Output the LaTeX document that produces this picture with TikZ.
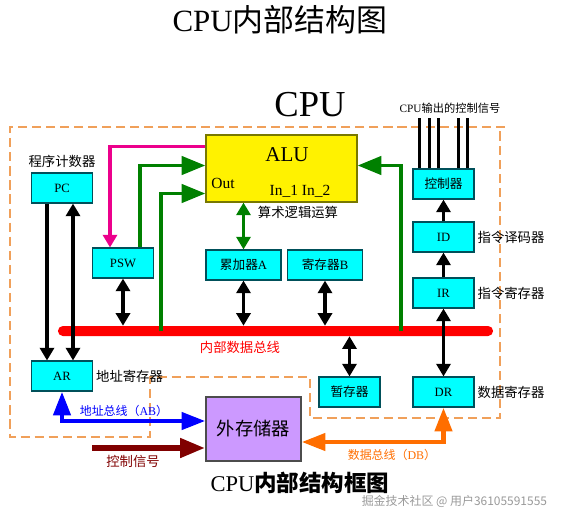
\documentclass[tikz,border=0pt]{standalone}
\usepackage{fontspec}
\setmainfont{Liberation Serif}
\newfontfamily\cjk{Noto Sans CJK SC}
\newcommand{\zh}[1]{{\cjk #1}}
\usepackage{tikz}
\usetikzlibrary{arrows.meta,calc,positioning}
\definecolor{regfill}{RGB}{0,255,255}
\definecolor{regline}{RGB}{0,80,90}
\definecolor{aluline}{RGB}{120,120,0}
\definecolor{memfill}{RGB}{204,153,255}
\definecolor{frameorange}{RGB}{240,160,90}
\definecolor{dbus}{RGB}{255,110,0}
\definecolor{ctlred}{RGB}{128,0,0}
\definecolor{okgreen}{RGB}{0,128,0}
\tikzstyle{reg} = [rectangle, draw=regline, fill=regfill, line width=0.8pt, minimum width=1.525cm, minimum height=0.75cm, inner sep=0pt, font={\fontsize{9}{10}\selectfont}]
\tikzstyle{wide} = [reg, minimum width=1.875cm]
\tikzstyle{note} = [inner sep=1pt, font={\fontsize{9.5}{10}\selectfont}]
\tikzstyle{line} = [draw, line width=2.8pt, -{Triangle[length=9pt,width=10pt]}]
\tikzstyle{both} = [line, {Triangle[length=9pt,width=10pt]}-{Triangle[length=9pt,width=10pt]}]
\tikzstyle{feed} = [draw, line width=2.8pt, draw=okgreen, -{Triangle[length=17pt,width=13pt]}]
\tikzstyle{wire} = [draw, line width=3.5pt, {Triangle[length=17pt,width=12pt]}-{Triangle[length=17pt,width=12pt]}]
\tikzstyle{cpuframe} = [draw=frameorange, line width=1pt, dash pattern=on 6.5pt off 3.5pt]

\begin{document}
\begin{tikzpicture}[x=0.025cm, y=-0.025cm]
  \useasboundingbox (0,0) rectangle (562,509);
  \draw [cpuframe] (505,127) -- (10,127) -- (10,437) -- (150,437) -- (150,377)
    -- (310,377) -- (310,418) -- (500,418) -- (500,127);

  \node [font={\fontsize{22}{22}\selectfont}] (title) at (280,20) {CPU\zh{内部结构图}};
  \node [font={\fontsize{26}{26}\selectfont}] (cpu) at (310,105) {CPU};

  % registers
  \node [reg] (PC) at (62,188) {PC};
  \node [note, above=2pt of PC] (pcname) {\zh{程序计数器}};
  \node [reg] (PSW) at (123,263) {PSW};
  \node [wide] (A) at (243.5,265) {\zh{累加器}A};
  \node [wide] (B) at (325,265) {\zh{寄存器}B};
  \node [reg] (AR) at (62,376) {AR};
  \node [note, right=1pt of AR] (arname) {\zh{地址寄存器}};
  \node [reg] (tmp) at (349.5,392) {\zh{暂存器}};
  \node [reg] (DR) at (443.5,392) {DR};
  \node [note, right=1pt of DR] (drname) {\zh{数据寄存器}};
  \node [reg] (IR) at (443.5,293) {IR};
  \node [note, right=1pt of IR] (irname) {\zh{指令寄存器}};
  \node [reg] (ID) at (443.5,237) {ID};
  \node [note, right=1pt of ID] (idname) {\zh{指令译码器}};
  \node [reg] (ctrl) at (443.5,184) {\zh{控制器}};
  \node [note, font={\fontsize{8}{9}\selectfont}] (ctrlname) at (450,108) {CPU\zh{输出的控制信号}};

  % alu
  \node [rectangle, draw=aluline, fill=yellow, line width=0.8pt,
    minimum width=3.775cm, minimum height=1.675cm] (ALU) at (281.5,168.5) {};
  \node [font={\fontsize{15}{15}\selectfont}] (alutext) at (287,155) {ALU};
  \node [font={\fontsize{11}{11}\selectfont}] (out) at (223,183) {Out};
  \node [font={\fontsize{11}{11}\selectfont}] (ins) at (300,191) {In\_1 In\_2};
  \node [note] (aluname) at (298,212) {\zh{算术逻辑运算}};

  % memory
  \node [rectangle, draw=black!70, fill=memfill, line width=0.8pt,
    minimum width=2.375cm, minimum height=1.6cm, font={\fontsize{13}{13}\selectfont}]
    (mem) at (253.5,429) {\zh{外存储器}};

  % internal bus
  \node [rectangle, fill=red, rounded corners=3.5pt, minimum width=10.875cm,
    minimum height=0.25cm, inner sep=0pt] (bus) at (275.5,331) {};
  \node [note, text=red] (busname) at (240,347) {\zh{内部数据总线}};
  \coordinate (tapL) at (161,331);
  \coordinate (tapR) at (401,331);
  \coordinate (ctlin) at (92,448);

  % pc and ar
  \path [line] ($(PC.south)+(-15,0)$) -- ($(AR.north)+(-15,0)$);
  \path [both] ($(AR.north)+(11,0)$) -- ($(PC.south)+(11,0)$);

  % to and from the bus
  \path [both] (PSW.south) -- (PSW.south |- bus.north);
  \path [both] (A.south) -- (A.south |- bus.north);
  \path [both] (B.south) -- (B.south |- bus.north);
  \path [both] (tmp.north) -- (tmp.north |- bus.south);
  \path [both] (DR.north) -- (IR.south);
  \path [line] (IR.north) -- (ID.south);
  \path [line] (ID.north) -- (ctrl.south);
  \foreach \dx in {-24,-14,-5,15,24}
    \draw [line width=2pt] ($(ctrl.north)+(\dx,0)$) -- ++(0,-50);

  % alu wiring
  \path [line, draw=magenta] ($(ALU.west)+(0,-22)$) -| ($(PSW.north)+(-13,0)$);
  \path [feed] ($(PSW.north)+(17,0)$) |- ($(ALU.west)+(0,-3)$);
  \path [feed] (tapL) |- ($(ALU.west)+(0,25)$);
  \path [feed] (tapR) |- ($(ALU.east)+(0,-3)$);
  \path [both, draw=okgreen] (A.north |- ALU.south) -- (A.north);

  % outside buses
  \path [wire, draw=blue] (AR.south) |- ($(mem.west)+(0,-8)$);
  \node [note, text=blue, font={\fontsize{8.5}{9}\selectfont}] (abname) at (124,411) {\zh{地址总线（}AB\zh{）}};
  \path [wire, draw=ctlred, line width=4.5pt, -{Triangle[length=18pt,width=13pt]}] (ctlin) -- (ctlin -| mem.west);
  \node [note, text=ctlred] (ctlname) at (133,461) {\zh{控制信号}};
  \path [wire, draw=dbus] ($(mem.east)+(0,13)$) -| (DR.south);
  \node [note, text=dbus, font={\fontsize{8.5}{9}\selectfont}] (dbname) at (392,455) {\zh{数据总线（}DB\zh{）}};

  \node [font={\fontsize{16}{16}\selectfont}] (caption) at (300,483) {CPU\zh{\bfseries 内部结构框图}};
  \node [text=gray, opacity=0.8, anchor=east, font={\cjk\fontsize{8.5}{9}\selectfont}] (mark) at (552,501) {掘金技术社区 @ 用户36105591555};
\end{tikzpicture}
\end{document}
